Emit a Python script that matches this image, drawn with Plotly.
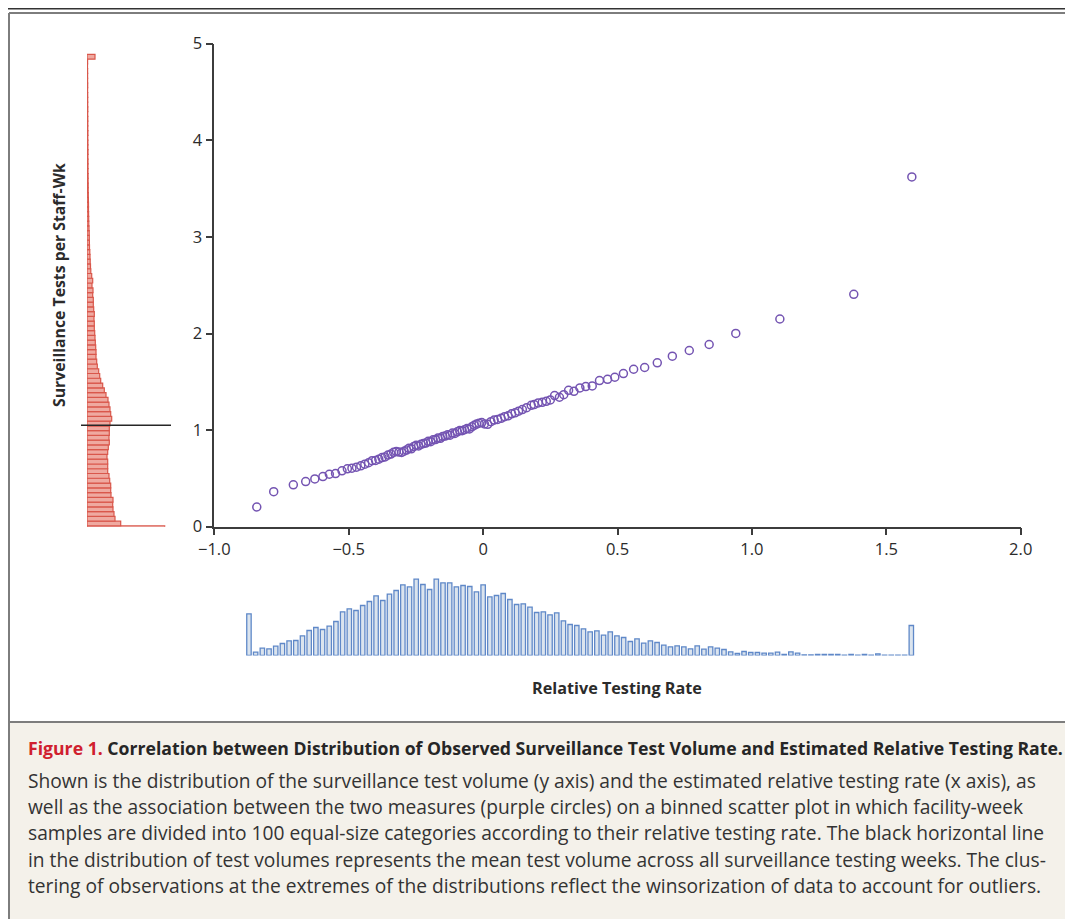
import numpy as np
import plotly.graph_objects as go

# the page body has an 8 px margin, so the figure fills the rest of the window
OFF = 8
W, H = 1073 - OFF, 919 - OFF

# ---------------- data ----------------
rate_x = [
    -0.842, -0.779, -0.706, -0.660, -0.626, -0.596, -0.572, -0.549, -0.525, -0.505,
    -0.488, -0.471, -0.455, -0.440, -0.426, -0.413, -0.400, -0.388, -0.376, -0.365,
    -0.354, -0.343, -0.333, -0.323, -0.313, -0.303, -0.294, -0.285, -0.276, -0.267,
    -0.258, -0.249, -0.240, -0.231, -0.222, -0.213, -0.204, -0.195, -0.186, -0.177,
    -0.168, -0.159, -0.150, -0.141, -0.132, -0.123, -0.114, -0.105, -0.096, -0.087,
    -0.078, -0.069, -0.060, -0.051, -0.042, -0.033, -0.024, -0.015, -0.005, 0.005,
    0.017, 0.029, 0.041, 0.054, 0.067, 0.080, 0.093, 0.106, 0.119, 0.132,
    0.146, 0.162, 0.179, 0.190, 0.205, 0.220, 0.235, 0.250, 0.266, 0.284,
    0.300, 0.318, 0.338, 0.360, 0.382, 0.406, 0.433, 0.463, 0.490, 0.522,
    0.560, 0.601, 0.648, 0.704, 0.767, 0.841, 0.940, 1.104, 1.379, 1.595,
]
tests_per_staff_wk = [
    0.204, 0.363, 0.433, 0.467, 0.495, 0.519, 0.543, 0.550, 0.578, 0.599,
    0.606, 0.616, 0.630, 0.647, 0.662, 0.683, 0.686, 0.699, 0.716, 0.722,
    0.741, 0.752, 0.770, 0.778, 0.772, 0.768, 0.781, 0.793, 0.811, 0.806,
    0.829, 0.842, 0.836, 0.853, 0.861, 0.866, 0.884, 0.880, 0.899, 0.902,
    0.917, 0.915, 0.934, 0.938, 0.951, 0.947, 0.969, 0.966, 0.982, 0.995,
    0.994, 1.004, 1.016, 1.012, 1.034, 1.049, 1.062, 1.071, 1.078, 1.063,
    1.060, 1.087, 1.104, 1.110, 1.122, 1.139, 1.148, 1.168, 1.179, 1.196,
    1.213, 1.232, 1.256, 1.264, 1.281, 1.288, 1.298, 1.312, 1.357, 1.340,
    1.367, 1.412, 1.402, 1.436, 1.451, 1.457, 1.513, 1.526, 1.547, 1.585,
    1.630, 1.648, 1.696, 1.765, 1.824, 1.886, 2.001, 2.150, 2.406, 3.621,
]

# distribution of relative testing rate (100 bins, winsorized ends)
rate_bin_start = -0.8835
rate_bin_width = 0.02489
rate_hist = [
    41.7, 3.3, 7.3, 6.7, 9.3, 12.0, 14.7, 15.0, 19.7, 25.0,
    28.0, 26.0, 29.3, 34.0, 43.7, 46.7, 45.0, 50.0, 54.0, 59.7,
    55.0, 61.3, 65.0, 70.7, 68.7, 76.3, 71.0, 66.0, 76.3, 72.7,
    72.7, 68.7, 70.0, 69.0, 63.7, 70.7, 58.7, 60.0, 62.0, 56.0,
    51.0, 51.7, 48.3, 43.0, 43.7, 40.7, 42.7, 34.7, 31.0, 30.0,
    26.7, 23.7, 24.7, 20.3, 23.7, 19.7, 18.0, 14.0, 16.7, 12.3,
    14.7, 13.0, 10.3, 8.7, 9.7, 8.7, 6.7, 9.7, 6.3, 8.7,
    7.3, 6.0, 3.7, 2.0, 4.0, 3.0, 3.0, 2.3, 2.3, 3.3,
    1.0, 3.7, 2.3, 0.7, 0.7, 1.0, 1.0, 1.0, 1.0, 0.3,
    1.0, 0.3, 1.0, 0.3, 1.7, 0.3, 0.3, 0.3, 0.3, 30.0,
]

# distribution of surveillance tests per staff-week (100 bins, winsorized top)
volume_bin_start = -0.041
volume_bin_width = 0.0493
volume_hist = [
    77.7, 33.7, 28.0, 27.0, 26.0, 25.7, 26.0, 24.0, 23.7, 23.7,
    22.7, 22.0, 20.7, 20.7, 20.7, 20.0, 20.7, 21.3, 22.3, 22.0,
    22.3, 22.3, 23.0, 24.7, 23.7, 23.0, 22.0, 21.0, 19.0, 17.3,
    15.7, 13.7, 12.7, 11.7, 10.3, 9.7, 9.0, 9.0, 8.7, 8.3,
    8.0, 7.7, 7.3, 7.3, 7.0, 7.3, 6.7, 6.3, 6.3, 5.7,
    6.0, 5.0, 5.7, 4.7, 3.8, 3.5, 3.2, 3.0, 2.8, 2.5,
    2.4, 2.3, 2.2, 2.0, 1.8, 1.7, 1.6, 1.5, 1.5, 1.4,
    1.3, 1.2, 1.2, 1.1, 1.1, 1.0, 1.0, 1.0, 0.9, 1.0,
    0.9, 0.9, 0.8, 0.9, 0.8, 0.8, 0.8, 0.7, 0.8, 0.7,
    0.7, 0.7, 0.6, 0.7, 0.6, 0.6, 0.6, 0.5, 0.6, 8.0,
]
mean_test_volume = 1.05

x_ticks = [-1.0, -0.5, 0, 0.5, 1.0, 1.5, 2.0]
x_tick_labels = ["\u22121.0", "\u22120.5", "0", "0.5", "1.0", "1.5", "2.0"]
y_ticks = [0, 1, 2, 3, 4, 5]
y_tick_labels = ["0", "1", "2", "3", "4", "5"]

x_title = "Relative Testing Rate"
y_title = "Surveillance Tests per Staff-Wk"
caption_title_red = "Figure 1."
caption_title = "Correlation between Distribution of Observed Surveillance Test Volume and Estimated Relative Testing Rate."
caption_lines = [
    "Shown is the distribution of the surveillance test volume (y axis) and the estimated relative testing rate (x axis), as",
    "well as the association between the two measures (purple circles) on a binned scatter plot in which facility-week",
    "samples are divided into 100 equal-size categories according to their relative testing rate. The black horizontal line",
    "in the distribution of test volumes represents the mean test volume across all surveillance testing weeks. The clus-",
    "tering of observations at the extremes of the distributions reflect the winsorization of data to account for outliers.",
]

# ---------------- helpers (window pixel -> paper fraction) ----------------
def px(x):
    return (x - OFF) / W

def py(y):
    return 1 - (y - OFF) / H

FONT = "Open Sans"
AX = "#3c3c3c"
TXT = "#2b2b2b"

rate_centers = rate_bin_start + rate_bin_width * (np.arange(len(rate_hist)) + 0.5)
volume_centers = volume_bin_start + volume_bin_width * (np.arange(len(volume_hist)) + 0.5)

fig = go.Figure()

# left histogram (test volume)
fig.add_trace(go.Bar(
    x=volume_hist, y=volume_centers, orientation="h",
    width=volume_bin_width,
    xaxis="x2", yaxis="y",
    marker=dict(color="#efa9a0", line=dict(color="#d9574b", width=1.2)),
    hoverinfo="skip", showlegend=False,
))

# bottom histogram (relative testing rate)
fig.add_trace(go.Bar(
    x=rate_centers, y=rate_hist,
    width=rate_bin_width * 0.66,
    xaxis="x3", yaxis="y3",
    marker=dict(color="#dbe4ee", line=dict(color="#5f88c8", width=1.3)),
    hoverinfo="skip", showlegend=False,
))

# binned scatter
fig.add_trace(go.Scatter(
    x=rate_x, y=tests_per_staff_wk, mode="markers",
    xaxis="x", yaxis="y",
    marker=dict(symbol="circle-open", size=8, color="#7454b2",
                line=dict(width=1.5, color="#7454b2")),
    cliponaxis=False, showlegend=False,
))

main_x_dom = [px(214.3), px(1020.7)]
main_y_dom = [py(526.7), py(43.7)]

fig.update_layout(
    template="none",
    width=W, height=H, autosize=False,
    margin=dict(l=0, r=0, t=0, b=0, pad=0, autoexpand=False),
    showlegend=False,
    paper_bgcolor="white", plot_bgcolor="rgba(0,0,0,0)",
    barmode="overlay",
    font=dict(family=FONT, color=TXT, size=16),
    xaxis=dict(
        domain=main_x_dom, range=[-1, 2.0], anchor="y", automargin=False,
        tickmode="array", tickvals=x_ticks, ticktext=x_tick_labels,
        ticks="outside", ticklen=7, tickwidth=1.5, tickcolor=AX,
        showline=True, linecolor=AX, linewidth=1.5,
        showgrid=False, zeroline=False,
        tickfont=dict(family=FONT, size=16.5, color=TXT),
    ),
    yaxis=dict(
        domain=main_y_dom, range=[0, 5], anchor="x", automargin=False,
        tickmode="array", tickvals=y_ticks, ticktext=y_tick_labels,
        ticks="outside", ticklen=7, tickwidth=1.5, tickcolor=AX,
        showline=True, linecolor=AX, linewidth=1.5,
        showgrid=False, zeroline=False,
        tickfont=dict(family=FONT, size=16.5, color=TXT),
    ),
    xaxis2=dict(domain=[px(87), px(187)], range=[0, 100], anchor="y",
                visible=False, fixedrange=True, automargin=False),
    xaxis3=dict(domain=main_x_dom, range=[-1, 2.0], anchor="y3",
                visible=False, fixedrange=True, automargin=False),
    yaxis3=dict(domain=[py(655.5), py(575.5)], range=[0, 80], anchor="x3",
                visible=False, fixedrange=True, automargin=False),
)

FRAME = "#7d7d7d"
shapes = [
    # caption background
    dict(type="rect", xref="paper", yref="paper", x0=px(9), x1=px(1066),
         y0=py(722), y1=py(940), fillcolor="#f4f1ea", line=dict(width=0), layer="below"),
    # top rule
    dict(type="line", xref="paper", yref="paper", x0=px(8), x1=px(1073),
         y0=py(8.8), y1=py(8.8), line=dict(color="#333333", width=1.5)),
    # frame
    dict(type="line", xref="paper", yref="paper", x0=px(9), x1=px(1066),
         y0=py(13), y1=py(13), line=dict(color=FRAME, width=2)),
    dict(type="line", xref="paper", yref="paper", x0=px(9), x1=px(9),
         y0=py(13), y1=py(940), line=dict(color=FRAME, width=2)),
    dict(type="line", xref="paper", yref="paper", x0=px(1066), x1=px(1066),
         y0=py(13), y1=py(940), line=dict(color=FRAME, width=2)),
    dict(type="line", xref="paper", yref="paper", x0=px(9), x1=px(1066),
         y0=py(722), y1=py(722), line=dict(color=FRAME, width=2)),
    # mean test volume
    dict(type="line", xref="paper", yref="y", x0=px(81), x1=px(171),
         y0=mean_test_volume, y1=mean_test_volume,
         line=dict(color="#262626", width=1.6)),
]
fig.update_layout(shapes=shapes)

ann = [
    dict(x=px(58.5), y=py(285.5), xref="paper", yref="paper", text="<b>" + y_title + "</b>",
         textangle=-90, showarrow=False, xanchor="center", yanchor="middle",
         font=dict(family=FONT, size=15.8, color=TXT)),
    dict(x=px(617), y=py(688), xref="paper", yref="paper", text="<b>" + x_title + "</b>",
         showarrow=False, xanchor="center", yanchor="middle",
         font=dict(family=FONT, size=16.2, color=TXT)),
    dict(x=px(26), y=py(748), xref="paper", yref="paper",
         text="<b><span style='color:#d0202e'>" + caption_title_red + "</span> " + caption_title + "</b>",
         showarrow=False, xanchor="left", yanchor="middle",
         font=dict(family=FONT, size=17.65, color="#262626")),
]
line_centers = [780.5, 806.5, 832.5, 859, 885]
for t, yc in zip(caption_lines, line_centers):
    ann.append(dict(x=px(26), y=py(yc), xref="paper", yref="paper", text=t,
                    showarrow=False, xanchor="left", yanchor="middle",
                    font=dict(family=FONT, size=19.2, color="#333333")))
fig.update_layout(annotations=ann)

fig.write_html("out.html")
